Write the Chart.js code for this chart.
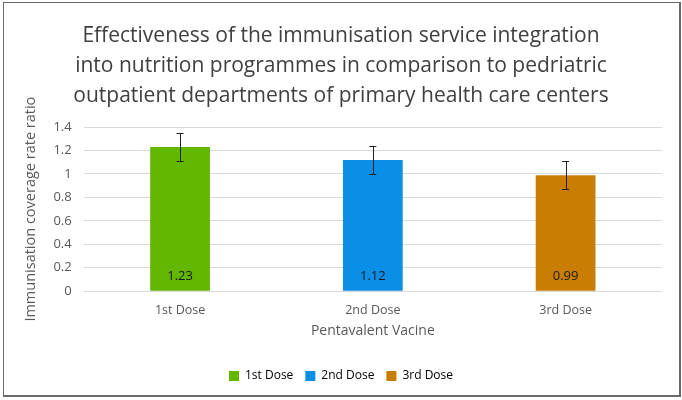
<!DOCTYPE html>
<html>
<head>
<meta charset="utf-8">
<script src="https://cdn.jsdelivr.net/npm/chart.js@4/dist/chart.umd.min.js"></script>
<style>
  body { margin: 0; background: #fff; }
  #wrap { position: relative; width: 682px; height: 400px; }
  #frame {
    position: absolute; left: 3px; top: 2px; width: 675px; height: 392px;
    border: 1px solid #6a6a6a; border-right-width: 2px; border-bottom-width: 2px;
    pointer-events: none;
  }
</style>
</head>
<body>
<div id="wrap">
  <canvas id="chart"></canvas>
  <div id="frame"></div>
</div>
<script>
// data
const doses = ["1st Dose", "2nd Dose", "3rd Dose"];
const ratios = [1.23, 1.12, 0.99];
const errLow = [1.11, 1.00, 0.87];
const errHigh = [1.35, 1.24, 1.11];
const barColors = ["#62b800", "#0a8ee6", "#c97d02"];
const yTicks = [0, 0.2, 0.4, 0.6, 0.8, 1, 1.2, 1.4];

const FONT = "'Open Sans', 'Liberation Sans', sans-serif";

// draws the error whiskers and the value labels inside each bar
const barExtras = {
    id: "barExtras",
    afterDatasetsDraw: function (chart) {
        const ctx = chart.ctx;
        const meta = chart.getDatasetMeta(0);
        const yscale = chart.scales.y;
        ctx.save();
        meta.data.forEach(function (bar, i) {
            const x = bar.x;
            const top = yscale.getPixelForValue(errHigh[i]);
            const bot = yscale.getPixelForValue(errLow[i]);
            ctx.strokeStyle = "#222";
            ctx.lineWidth = 1;
            ctx.beginPath();
            ctx.moveTo(Math.round(x) + 0.5, top);
            ctx.lineTo(Math.round(x) + 0.5, bot);
            ctx.moveTo(x - 3.5, Math.round(top) + 0.5);
            ctx.lineTo(x + 3.5, Math.round(top) + 0.5);
            ctx.moveTo(x - 3.5, Math.round(bot) + 0.5);
            ctx.lineTo(x + 3.5, Math.round(bot) + 0.5);
            ctx.stroke();

            ctx.fillStyle = "#1a1a1a";
            ctx.font = "13px " + FONT;
            ctx.textAlign = "center";
            ctx.textBaseline = "middle";
            ctx.fillText(ratios[i].toFixed(2), x, yscale.getPixelForValue(0) - 15);
        });
        ctx.restore();
    }
};

new Chart(document.getElementById("chart"), {
    type: "bar",
    data: {
        labels: doses,
        datasets: [{
            data: ratios,
            backgroundColor: barColors,
            borderWidth: 0,
            categoryPercentage: 0.62,
            barPercentage: 0.5
        }]
    },
    options: {
        responsive: true,
        maintainAspectRatio: false,
        animation: false,
        layout: { padding: { left: 20, right: 20, top: 8, bottom: 8 } },
        plugins: {
            title: {
                display: true,
                text: [
                    "Effectiveness of the immunisation service integration",
                    "into nutrition programmes in comparison to pedriatric",
                    "outpatient departments of primary health care centers"
                ],
                color: "#404040",
                font: { family: FONT, size: 21, weight: "normal", lineHeight: 1.43 },
                padding: { top: 13, bottom: 16 }
            },
            legend: {
                position: "bottom",
                labels: {
                    boxWidth: 10,
                    boxHeight: 10,
                    padding: 12,
                    color: "#595959",
                    font: { family: FONT, size: 12 },
                    generateLabels: function (chart) {
                        return doses.map(function (d, i) {
                            return { text: d, fillStyle: barColors[i], strokeStyle: barColors[i], lineWidth: 0, index: i };
                        });
                    }
                }
            },
            tooltip: { enabled: false }
        },
        scales: {
            x: {
                grid: { display: false },
                border: { display: false },
                ticks: { color: "#595959", font: { family: FONT, size: 12.5 }, padding: 4 },
                title: {
                    display: true, text: "Pentavalent Vacine", color: "#595959",
                    font: { family: FONT, size: 14 }, padding: { top: 0, bottom: 19 }
                }
            },
            y: {
                min: 0, max: 1.4,
                afterBuildTicks: function (axis) {
                    axis.ticks = yTicks.map(function (v) { return { value: v }; });
                },
                grid: { color: "#d9d9d9", drawTicks: false },
                border: { display: false },
                ticks: {
                    color: "#595959", font: { family: FONT, size: 13 }, padding: 12,
                    callback: function (v) { return String(+v.toFixed(1)); }
                },
                title: {
                    display: true, text: "Immunisation coverage rate ratio", color: "#595959",
                    font: { family: FONT, size: 14.5 }, padding: 2
                }
            }
        }
    },
    plugins: [barExtras]
});
</script>
</body>
</html>
